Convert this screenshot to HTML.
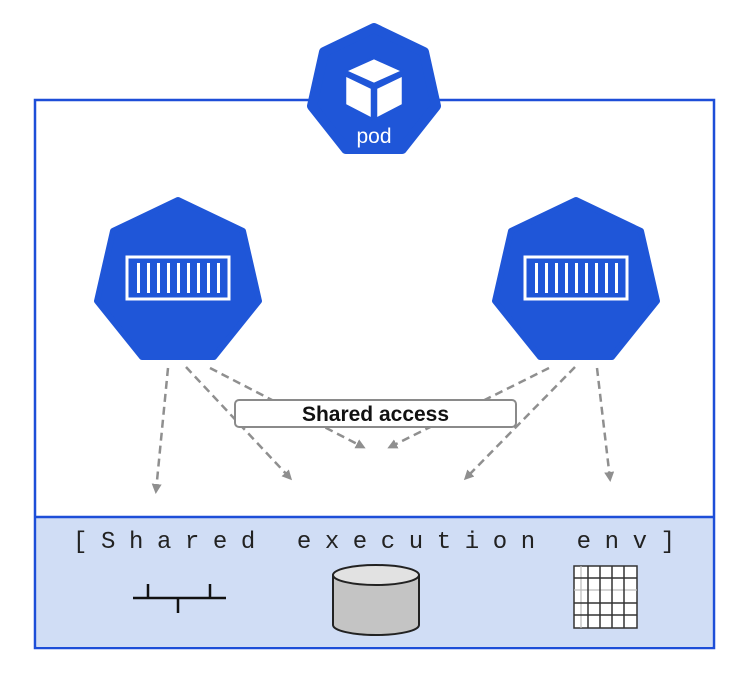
<!DOCTYPE html>
<html><head><style>
html,body{margin:0;padding:0;background:#fff;width:739px;height:674px;overflow:hidden}
</style></head><body>
<svg width="739" height="674" viewBox="0 0 739 674" xmlns="http://www.w3.org/2000/svg">
<defs>
<marker id="ah" markerWidth="10" markerHeight="10" refX="7" refY="5" orient="auto" markerUnits="userSpaceOnUse">
<path d="M0,0 L10,5 L0,10 Z" fill="#8f8f8f"/>
</marker>
</defs>
<rect x="35" y="100" width="679" height="548" fill="#fff" stroke="#1d4ed8" stroke-width="2.5"/>
<rect x="36.5" y="517" width="676" height="130" fill="#d0ddf5"/>
<line x1="35" y1="517" x2="714" y2="517" stroke="#1d4ed8" stroke-width="2.5"/>
<g fill="#1f56d8" stroke="#1f56d8" stroke-width="10" stroke-linejoin="round">
<polygon points="374,28 424,52 436,106 402,149 346,149 312,106 324,52"/>
</g>
<g fill="#1f56d8" stroke="#1f56d8" stroke-width="6" stroke-linejoin="round">
<polygon points="178,200 243,231 259,301 214,357 142,357 97,301 113,231"/>
<polygon points="576,200 641,231 657,301 612,357 540,357 495,301 511,231"/>
</g>
<g fill="#fff" stroke="#1f56d8" stroke-width="2.5" stroke-linejoin="round">
<polygon points="374,58 403,71 374,84 345,71"/>
<polygon points="345,75 372,88 372,119 345,105"/>
<polygon points="376,88 403,75 403,105 376,119"/>
</g>
<text x="374" y="143" font-family="Liberation Sans, sans-serif" font-size="21" fill="#fff" text-anchor="middle">pod</text>
<g fill="none" stroke="#fff" stroke-width="3">
<rect x="127" y="257" width="102" height="42"/>
<rect x="525" y="257" width="102" height="42"/>
</g>
<g fill="#fff">
<rect x="137" y="263" width="3" height="30"/><rect x="147" y="263" width="3" height="30"/><rect x="157" y="263" width="3" height="30"/><rect x="167" y="263" width="3" height="30"/><rect x="177" y="263" width="3" height="30"/><rect x="187" y="263" width="3" height="30"/><rect x="197" y="263" width="3" height="30"/><rect x="207" y="263" width="3" height="30"/><rect x="217" y="263" width="3" height="30"/>
<rect x="535" y="263" width="3" height="30"/><rect x="545" y="263" width="3" height="30"/><rect x="555" y="263" width="3" height="30"/><rect x="565" y="263" width="3" height="30"/><rect x="575" y="263" width="3" height="30"/><rect x="585" y="263" width="3" height="30"/><rect x="595" y="263" width="3" height="30"/><rect x="605" y="263" width="3" height="30"/><rect x="615" y="263" width="3" height="30"/>
</g>
<g stroke="#8f8f8f" stroke-width="2.5" stroke-dasharray="8,5" fill="none" marker-end="url(#ah)">
<line x1="168" y1="368" x2="156" y2="491"/>
<line x1="186" y1="367" x2="290" y2="478"/>
<line x1="210" y1="368" x2="363" y2="447"/>
<line x1="575" y1="367" x2="466" y2="478"/>
<line x1="549" y1="368" x2="390" y2="447"/>
<line x1="597" y1="368" x2="610" y2="479"/>
</g>
<rect x="235" y="400" width="281" height="27" rx="4" fill="#fff" stroke="#8a8a8a" stroke-width="2"/>
<text x="375.5" y="421" font-family="Liberation Sans, sans-serif" font-size="21" font-weight="bold" fill="#111" text-anchor="middle">Shared access</text>
<text x="73" y="548" font-family="Liberation Mono, monospace" font-size="24" fill="#222" textLength="602" lengthAdjust="spacing">[Shared execution env]</text>
<g stroke="#111" stroke-width="2.5">
<line x1="133" y1="598" x2="226" y2="598"/>
<line x1="148" y1="584" x2="148" y2="598"/>
<line x1="210" y1="584" x2="210" y2="598"/>
<line x1="178" y1="598" x2="178" y2="613"/>
</g>
<path d="M333,575 L333,625 A43,10 0 0 0 419,625 L419,575" fill="#c4c4c4" stroke="#222" stroke-width="2"/>
<ellipse cx="376" cy="575" rx="43" ry="10" fill="#e2e2e2" stroke="#222" stroke-width="2"/>
<rect x="574" y="566" width="63" height="62" fill="#fff" stroke="#333" stroke-width="1.5"/>
<g stroke="#bbb" stroke-width="1.2">
<line x1="581" y1="566" x2="581" y2="628"/>
<line x1="574" y1="590" x2="637" y2="590"/>
</g>
<g stroke="#333" stroke-width="1.5">
<line x1="588" y1="566" x2="588" y2="628"/><line x1="600" y1="566" x2="600" y2="628"/><line x1="612" y1="566" x2="612" y2="628"/><line x1="624" y1="566" x2="624" y2="628"/>
<line x1="574" y1="578" x2="637" y2="578"/><line x1="574" y1="603" x2="637" y2="603"/><line x1="574" y1="615" x2="637" y2="615"/>
</g>
</svg>
</body></html>
